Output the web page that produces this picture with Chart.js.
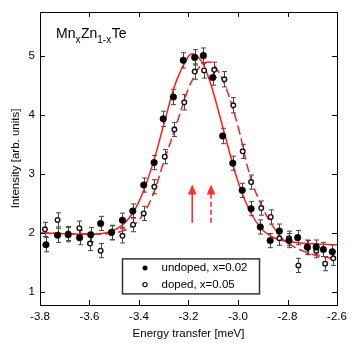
<!DOCTYPE html>
<html><head><meta charset="utf-8">
<script src="https://cdn.jsdelivr.net/npm/chart.js@4/dist/chart.umd.min.js"></script>
<style>html,body{margin:0;padding:0;background:#fff}#wrap{width:354px;height:347px;position:relative}</style>
</head><body><div id="wrap"><canvas id="c" width="354" height="347"></canvas></div>
<script>
// ---- data ----
const undopedX = [-3.776,-3.729,-3.686,-3.640,-3.595,-3.555,-3.511,-3.467,-3.425,-3.381,-3.339,-3.302,-3.261,-3.221,-3.175,-3.140,-3.102,-3.062,-3.021,-2.983,-2.947,-2.910,-2.870,-2.833,-2.794,-2.759,-2.720,-2.684,-2.655,-2.619];
const undopedY = [1.80,1.96,1.97,1.92,1.97,2.16,2.01,2.215,2.37,2.81,3.19,3.93,4.30,4.92,4.97,5.00,4.63,3.64,3.18,2.72,2.41,2.10,1.87,2.03,1.87,1.92,1.76,1.76,1.72,1.68];
const undopedErr = [0.12,0.12,0.12,0.12,0.12,0.12,0.12,0.12,0.12,0.12,0.12,0.13,0.13,0.13,0.13,0.13,0.13,0.13,0.12,0.12,0.12,0.12,0.12,0.12,0.12,0.12,0.12,0.12,0.12,0.12];
const dopedX = [-3.780,-3.729,-3.686,-3.641,-3.598,-3.555,-3.511,-3.467,-3.424,-3.381,-3.338,-3.296,-3.257,-3.217,-3.175,-3.137,-3.096,-3.055,-3.019,-2.981,-2.947,-2.906,-2.868,-2.833,-2.794,-2.756,-2.718,-2.684,-2.648,-2.615];
const dopedY = [2.06,2.22,1.99,2.08,1.82,1.70,2.00,1.95,2.14,2.33,2.78,3.29,3.75,4.21,4.73,4.75,4.76,4.60,4.16,3.38,2.86,2.42,2.27,1.91,1.91,1.45,1.75,1.70,1.48,1.57];
const dopedErr = [0.12,0.12,0.12,0.12,0.12,0.12,0.12,0.12,0.12,0.12,0.12,0.12,0.12,0.13,0.13,0.13,0.13,0.13,0.13,0.12,0.12,0.12,0.12,0.12,0.12,0.12,0.12,0.12,0.12,0.12];
const fitX = [-3.8,-3.7,-3.6,-3.55,-3.5,-3.45,-3.4,-3.35,-3.3,-3.25,-3.2,-3.18,-3.15,-3.125,-3.1,-3.05,-3.0,-2.95,-2.9,-2.85,-2.8,-2.7,-2.6];
const fitUndoped = [2.00,1.985,1.977,1.99,2.046,2.20,2.53,3.09,3.83,4.56,4.99,5.03,4.92,4.70,4.38,3.61,2.87,2.35,2.05,1.91,1.853,1.817,1.80];
const fitDoped = [2.00,1.99,1.98,1.98,2.00,2.06,2.22,2.58,3.20,3.82,4.45,4.62,4.84,4.89,4.86,4.47,3.80,2.95,2.42,2.06,1.83,1.64,1.56];
const seriesLabels = ['undoped, x=0.02','doped, x=0.05'];
const xTicks = [-3.8,-3.6,-3.4,-3.2,-3.0,-2.8,-2.6];
const xTickLabels = ['-3.8','-3.6','-3.4','-3.2','-3.0','-2.8','-2.6'];
const yTicks = [1,2,3,4,5];
const yTickLabels = ['1','2','3','4','5'];
const arrowX = [-3.185,-3.109];
const arrowFrom = [2.17,2.17];
const arrowTo = [2.82,2.82];
const xTitle = 'Energy transfer [meV]';
const yTitle = 'Intensity [arb. units]';

const FONT = '"Liberation Sans", Arial, Helvetica, sans-serif';
const RED = '#ff1e1e';

const pts = (xs, ys) => xs.map((x,i)=>({x, y: ys[i]}));

const errorBars = {
  id:'errorBars',
  beforeDatasetsDraw(chart){
    const {ctx, scales:{x,y}} = chart;
    const sets = [[undopedX,undopedY,undopedErr],[dopedX,dopedY,dopedErr]];
    ctx.save();
    ctx.strokeStyle = '#444'; ctx.lineWidth = 1;
    sets.forEach(([xs,ys,es])=>{
      xs.forEach((xv,i)=>{
        const px = Math.round(x.getPixelForValue(xv))+0.5;
        const y1 = y.getPixelForValue(ys[i]-es[i]);
        const y2 = y.getPixelForValue(ys[i]+es[i]);
        ctx.beginPath();
        ctx.moveTo(px,y1); ctx.lineTo(px,y2);
        ctx.moveTo(px-2.5,y1); ctx.lineTo(px+2.5,y1);
        ctx.moveTo(px-2.5,y2); ctx.lineTo(px+2.5,y2);
        ctx.stroke();
      });
    });
    ctx.restore();
  }
};

const frame = {
  id:'frame',
  afterDraw(chart){
    const {ctx, chartArea:a, scales:{x,y}} = chart;
    ctx.save();
    ctx.strokeStyle = '#000'; ctx.lineWidth = 1;
    ctx.strokeRect(Math.round(a.left)+0.5, Math.round(a.top)+0.5, Math.round(a.right-a.left), Math.round(a.bottom-a.top));
    const L = 5;
    ctx.beginPath();
    xTicks.forEach(v=>{
      const px = Math.round(x.getPixelForValue(v))+0.5;
      ctx.moveTo(px,a.bottom); ctx.lineTo(px,a.bottom-L);
      ctx.moveTo(px,a.top); ctx.lineTo(px,a.top+L);
    });
    yTicks.forEach(v=>{
      const py = Math.round(y.getPixelForValue(v))+0.5;
      ctx.moveTo(a.left,py); ctx.lineTo(a.left+L,py);
      ctx.moveTo(a.right,py); ctx.lineTo(a.right-L,py);
    });
    ctx.stroke();

    // arrows
    ctx.strokeStyle = '#ff3030'; ctx.fillStyle = '#ff3030'; ctx.lineWidth = 1.6;
    arrowX.forEach((xv,i)=>{
      const px = x.getPixelForValue(xv);
      const yb = y.getPixelForValue(arrowFrom[i]);
      const yt = y.getPixelForValue(arrowTo[i]);
      ctx.setLineDash(i===1?[5,3]:[]);
      ctx.beginPath(); ctx.moveTo(px,yb); ctx.lineTo(px,yt+9); ctx.stroke();
      ctx.setLineDash([]);
      ctx.beginPath(); ctx.moveTo(px,yt); ctx.lineTo(px-4.3,yt+10); ctx.lineTo(px+4.3,yt+10); ctx.closePath(); ctx.fill();
    });

    // title
    ctx.fillStyle = '#000'; ctx.textBaseline = 'alphabetic'; ctx.textAlign='left';
    let tx = a.left + 16; const by = a.top + 26;
    const parts = [['Mn',0],['x',1],['Zn',0],['1-x',1],['Te',0]];
    parts.forEach(([t,sub])=>{
      ctx.font = (sub? '10px ':'14px ') + FONT;
      ctx.fillText(t, tx, by + (sub?5.5:0));
      tx += ctx.measureText(t).width + (sub?0.5:0);
    });

    // legend
    const lx = a.left + 82.5, ly = a.top + 247, lw = 137, lh = 35;
    ctx.fillStyle = '#fff'; ctx.fillRect(lx,ly,lw,lh);
    ctx.strokeStyle = '#333'; ctx.lineWidth = 1.5; ctx.strokeRect(lx,ly,lw,lh);
    ctx.font = '11.5px ' + FONT; ctx.textBaseline = 'middle';
    const rows = [ly+9, ly+25.7];
    ctx.fillStyle = '#000';
    ctx.beginPath(); ctx.arc(lx+22.5, rows[0], 2.5, 0, Math.PI*2); ctx.fill();
    ctx.strokeStyle = '#111'; ctx.lineWidth = 1.2; ctx.fillStyle = '#fff';
    ctx.beginPath(); ctx.arc(lx+22.5, rows[1], 2.1, 0, Math.PI*2); ctx.fill(); ctx.stroke();
    ctx.fillStyle = '#000';
    ctx.fillText(seriesLabels[0], lx+39, rows[0]);
    ctx.fillText(seriesLabels[1], lx+39, rows[1]);
    ctx.restore();
  }
};

new Chart(document.getElementById('c'), {
  type:'scatter',
  data:{ datasets:[
    {label:seriesLabels[0], data:pts(undopedX,undopedY), pointRadius:3.3, pointBackgroundColor:'#000', pointBorderColor:'#000', pointBorderWidth:0.5, showLine:false},
    {label:seriesLabels[1], data:pts(dopedX,dopedY), pointRadius:2.3, pointBackgroundColor:'#fff', pointBorderColor:'#111', pointBorderWidth:1.4, showLine:false},
    {label:'fit undoped', data:pts(fitX,fitUndoped), showLine:true, pointRadius:0, borderColor:RED, borderWidth:1.5, tension:0.4, fill:false},
    {label:'fit doped', data:pts(fitX,fitDoped), showLine:true, pointRadius:0, borderColor:RED, borderWidth:1.5, borderDash:[9,4], tension:0.4, fill:false}
  ]},
  options:{
    responsive:false, animation:false, devicePixelRatio:1,
    layout:{padding:{top:9,right:17,left:0,bottom:0}},
    plugins:{legend:{display:false}, tooltip:{enabled:false}},
    scales:{
      x:{type:'linear', min:-3.8, max:-2.6,
        grid:{display:false, drawTicks:false}, border:{display:false},
        afterBuildTicks:s=>{s.ticks = xTicks.map(v=>({value:v}));},
        afterFit:s=>{s.height = 42;},
        ticks:{color:'#000', padding:5, autoSkip:false, maxRotation:0, font:{family:FONT, size:11.5}, callback:(v,i)=>xTickLabels[i]},
        title:{display:true, text:xTitle, color:'#000', font:{family:FONT, size:11.5}, padding:{top:0,bottom:6}}
      },
      y:{type:'linear', min:0.78, max:5.74,
        grid:{display:false, drawTicks:false}, border:{display:false},
        afterBuildTicks:s=>{s.ticks = yTicks.map(v=>({value:v}));},
        afterFit:s=>{s.width = 40;},
        ticks:{color:'#000', padding:5, autoSkip:false, font:{family:FONT, size:11.5}, callback:(v,i)=>yTickLabels[i]},
        title:{display:true, text:yTitle, color:'#000', font:{family:FONT, size:11.5}, padding:{top:9,bottom:0}}
      }
    }
  },
  plugins:[errorBars, frame]
});
</script></body></html>
